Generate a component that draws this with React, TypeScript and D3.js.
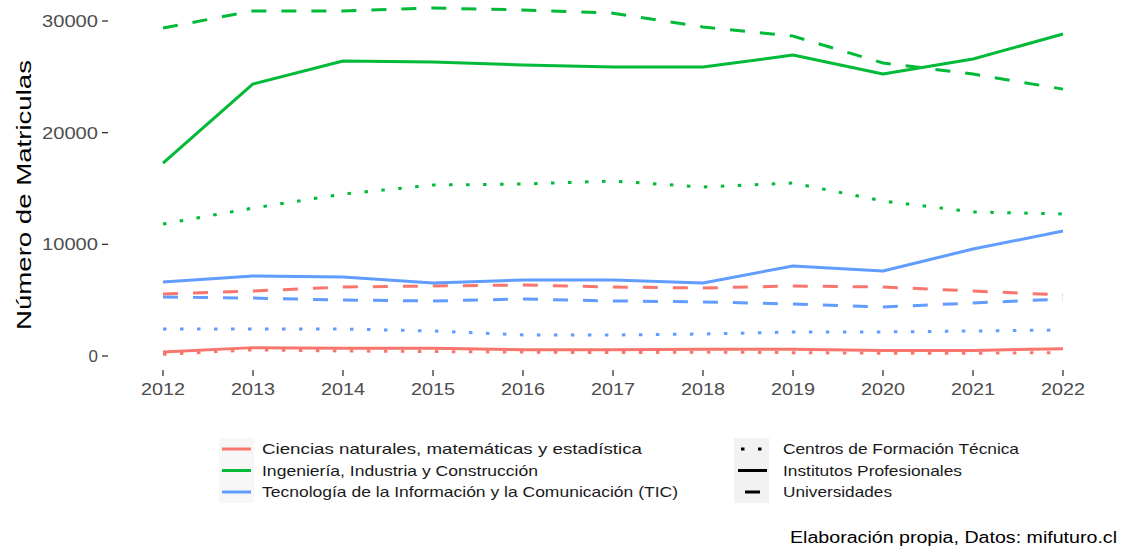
import React from "react";
import * as d3 from "d3";

const years = [2012, 2013, 2014, 2015, 2016, 2017, 2018, 2019, 2020, 2021, 2022];
const areas = [
  "Ciencias naturales, matemáticas y estadística",
  "Ingeniería, Industria y Construcción",
  "Tecnología de la Información y la Comunicación (TIC)",
];
const institutions = ["Centros de Formación Técnica", "Institutos Profesionales", "Universidades"];
const yTicks = [0, 10000, 20000, 30000];

// Ciencias
const cienciasCFT = [150, 550, 450, 400, 350, 300, 350, 300, 250, 250, 300];
const cienciasIP = [350, 750, 700, 700, 550, 550, 600, 600, 500, 500, 650];
const cienciasU = [5550, 5820, 6180, 6270, 6360, 6180, 6090, 6270, 6180, 5820, 5460];
// Ingeniería
const ingenieriaCFT = [11820, 13250, 14500, 15310, 15400, 15670, 15130, 15490, 13880, 12900, 12720];
const ingenieriaIP = [17280, 24360, 26420, 26330, 26060, 25880, 25880, 26950, 25250, 26600, 28830];
const ingenieriaU = [29370, 30900, 30900, 31160, 30990, 30700, 29460, 28650, 26240, 25250, 23900];
// TIC
const ticCFT = [2420, 2420, 2420, 2240, 1880, 1880, 1970, 2150, 2150, 2240, 2330];
const ticIP = [6630, 7160, 7070, 6540, 6800, 6800, 6540, 8060, 7610, 9580, 11190];
const ticU = [5280, 5190, 5010, 4930, 5100, 4930, 4840, 4660, 4390, 4750, 5100];

const colors = ["#F8766D", "#00BA38", "#619CFF"];
const dashes = ["3.5 13.5", "none", "15 15"];

const seriesList = [
  { area: 0, inst: 0, values: cienciasCFT },
  { area: 0, inst: 1, values: cienciasIP },
  { area: 0, inst: 2, values: cienciasU },
  { area: 1, inst: 0, values: ingenieriaCFT },
  { area: 1, inst: 1, values: ingenieriaIP },
  { area: 1, inst: 2, values: ingenieriaU },
  { area: 2, inst: 0, values: ticCFT },
  { area: 2, inst: 1, values: ticIP },
  { area: 2, inst: 2, values: ticU },
];

const areaLens = [380, 276, 416];
const instLens = [236, 179, 109];

export default function App() {
  const W = 1122;
  const H = 550;
  const font = "'Liberation Sans', Arial, sans-serif";
  const x = d3.scaleLinear().domain([2012, 2022]).range([163, 1063]);
  const y = d3.scaleLinear().domain([0, 30000]).range([356, 21]);
  const line = d3
    .line<number>()
    .x((_, i) => x(years[i]))
    .y((d) => y(d));

  const legRows = [449, 470.5, 492];
  return (
    <svg
      width={W}
      height={H}
      style={{ position: "absolute", left: 0, top: 0, background: "#fff" }}
      fontFamily={font}
    >
      {/* y axis */}
      {yTicks.map((t) => (
        <g key={t}>
          <line x1={102} x2={108} y1={y(t)} y2={y(t)} stroke="#333" strokeWidth={1.3} />
          <text
            x={t === 0 ? 98 : 42}
            y={y(t)}
            dy="0.36em"
            textAnchor={t === 0 ? "end" : "start"}
            fontSize={17}
            fill="#4D4D4D"
            textLength={t === 0 ? undefined : 56}
            lengthAdjust="spacingAndGlyphs"
          >
            {t}
          </text>
        </g>
      ))}
      <text
        transform={`translate(31,330) rotate(-90)`}
        fontSize={20}
        fill="#000"
        textLength={270}
        lengthAdjust="spacingAndGlyphs"
      >
        Número de Matriculas
      </text>
      {/* x axis */}
      {years.map((yr) => (
        <g key={yr}>
          <line x1={x(yr)} x2={x(yr)} y1={370} y2={376} stroke="#333" strokeWidth={1.3} />
          <text
            x={x(yr) - 22}
            y={389}
            dy="0.36em"
            fontSize={17}
            fill="#4D4D4D"
            textLength={44}
            lengthAdjust="spacingAndGlyphs"
          >
            {yr}
          </text>
        </g>
      ))}
      {/* lines */}
      {seriesList.map((s, i) => (
        <path
          key={i}
          d={line(s.values) || ""}
          fill="none"
          stroke={colors[s.area]}
          strokeWidth={3}
          strokeDasharray={dashes[s.inst]}
          strokeLinecap="butt"
          strokeLinejoin="round"
        />
      ))}
      {/* legend colour */}
      <rect x={219} y={438} width={35} height={65} fill="#F2F2F2" opacity={0.6} />
      {areas.map((a, i) => (
        <g key={a}>
          <line x1={222} x2={251} y1={legRows[i]} y2={legRows[i]} stroke={colors[i]} strokeWidth={3} />
          <text
            x={262}
            y={legRows[i]}
            dy="0.36em"
            fontSize={14.5}
            fill="#1A1A1A"
            textLength={areaLens[i]}
            lengthAdjust="spacingAndGlyphs"
          >
            {a}
          </text>
        </g>
      ))}
      {/* legend linetype */}
      <rect x={734} y={438} width={35} height={65} fill="#F2F2F2" />
      {institutions.map((a, i) => (
        <g key={a}>
          <line
            x1={738}
            x2={767}
            y1={legRows[i]}
            y2={legRows[i]}
            stroke="#000"
            strokeWidth={3}
            strokeDasharray={i === 0 ? "3.5 13.5" : i === 2 ? "15 15" : "none"}
            strokeDashoffset={i === 0 ? -3 : i === 2 ? -7 : 0}
          />
          <text
            x={783}
            y={legRows[i]}
            dy="0.36em"
            fontSize={14.5}
            fill="#1A1A1A"
            textLength={instLens[i]}
            lengthAdjust="spacingAndGlyphs"
          >
            {a}
          </text>
        </g>
      ))}
      <text
        x={790}
        y={537}
        dy="0.36em"
        fontSize={16}
        fill="#000"
        textLength={327}
        lengthAdjust="spacingAndGlyphs"
      >
        Elaboración propia, Datos: mifuturo.cl
      </text>
    </svg>
  );
}
